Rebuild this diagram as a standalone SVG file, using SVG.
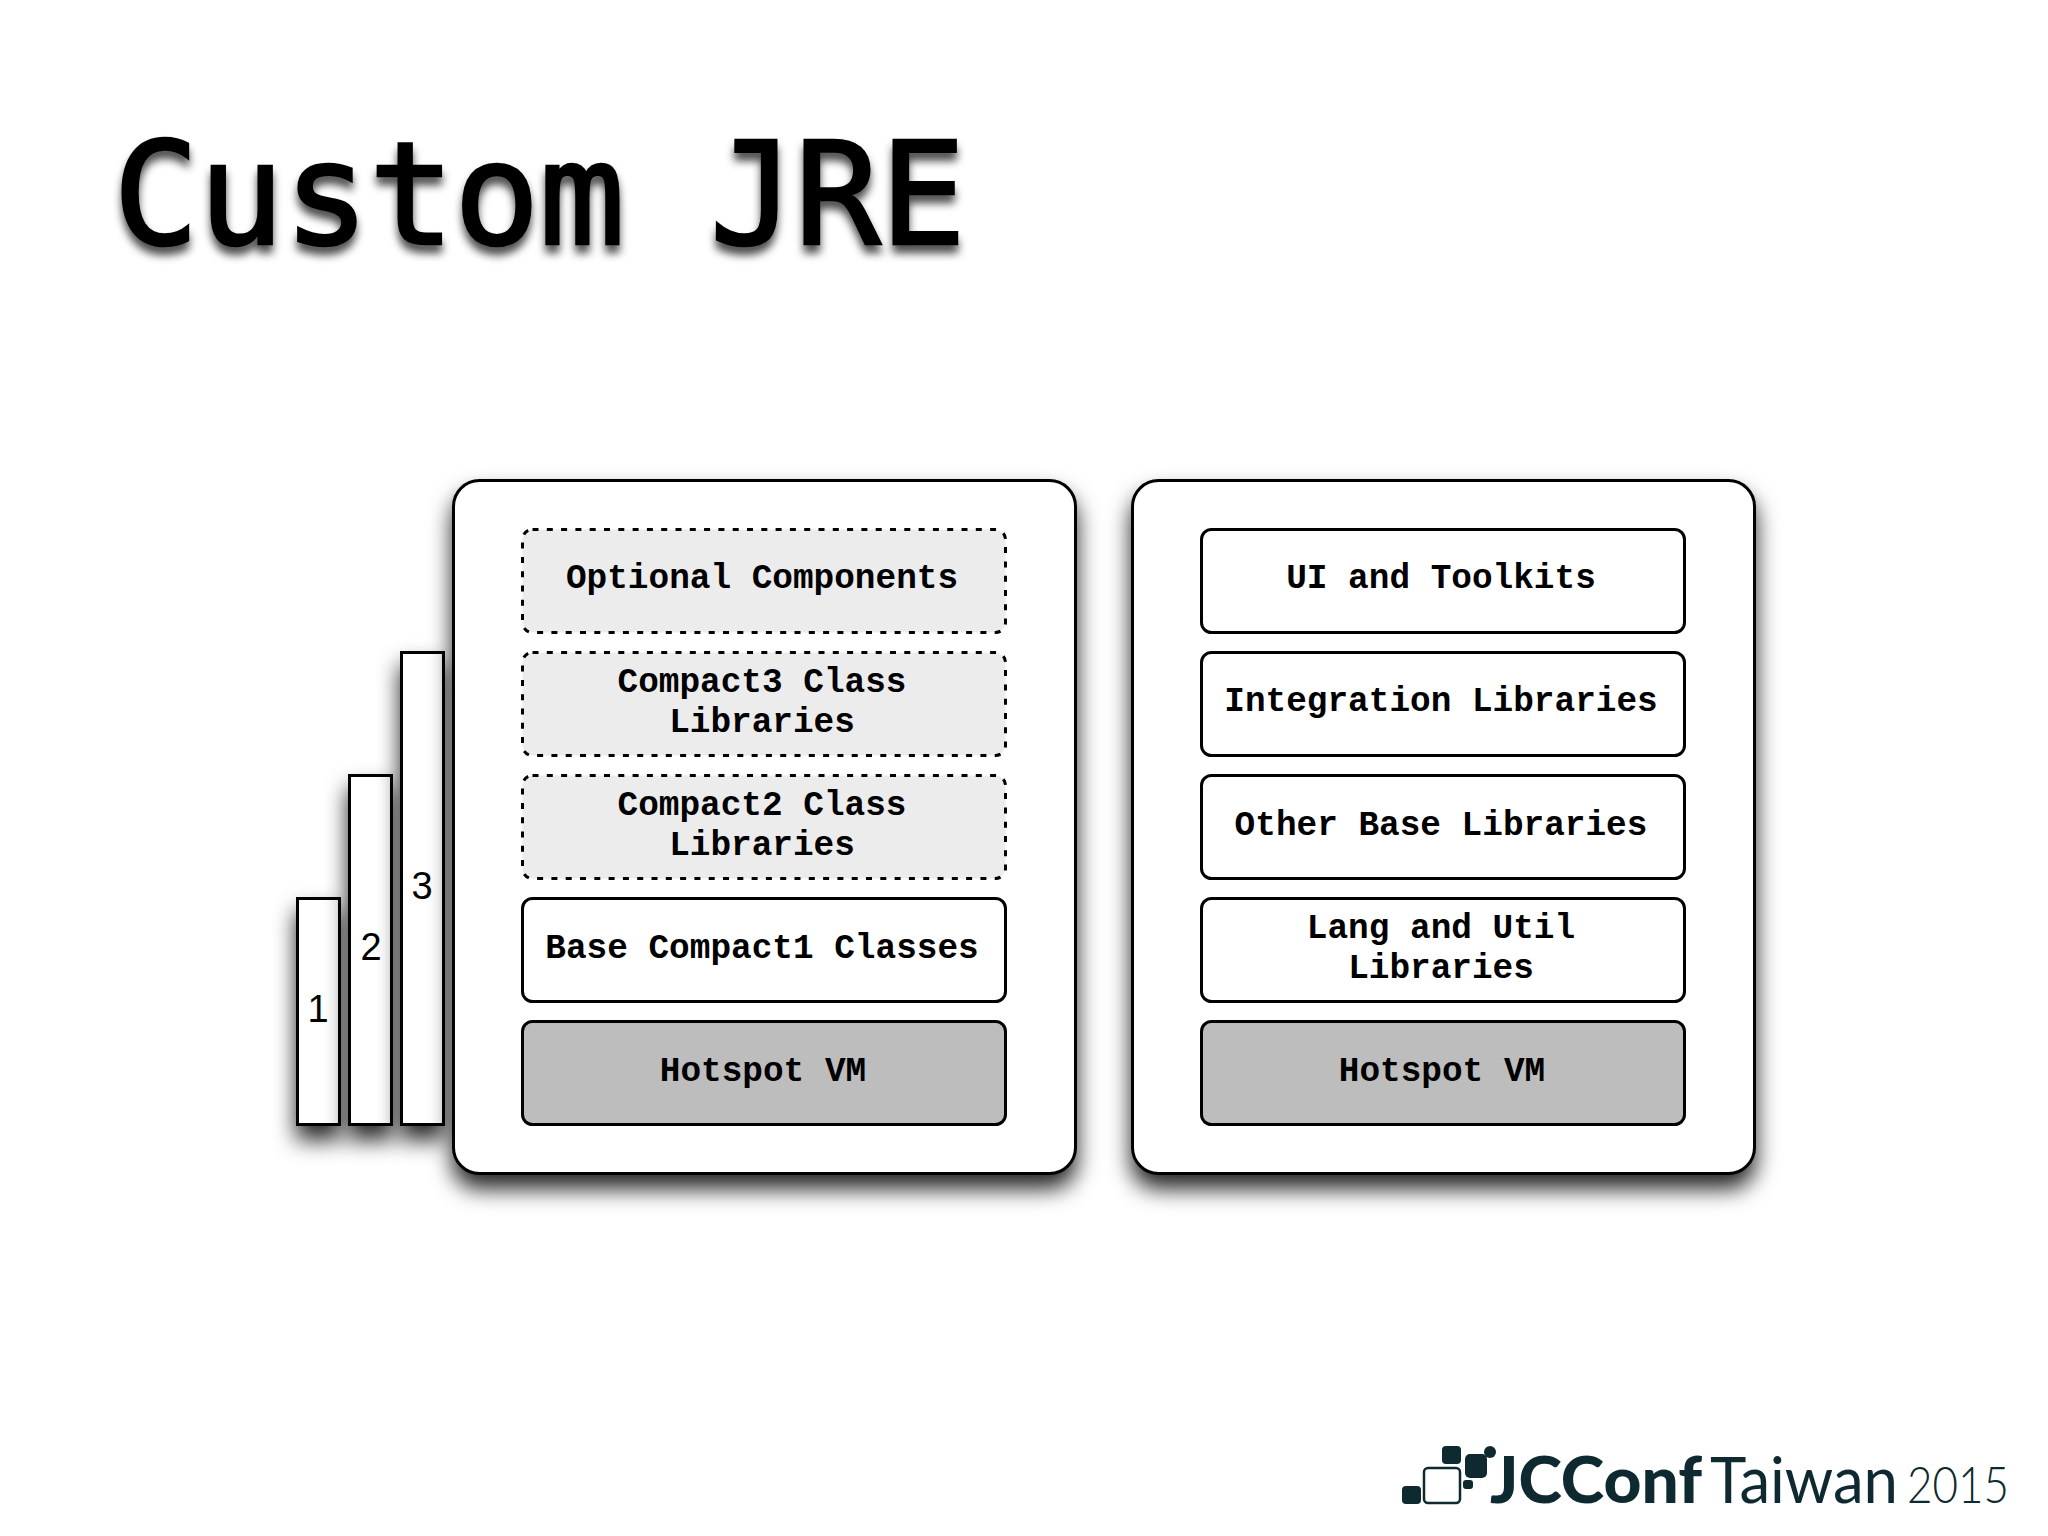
<svg xmlns="http://www.w3.org/2000/svg" width="2048" height="1536" viewBox="0 0 2048 1536">
<defs>
<style>
.shadow{filter:url(#ds)}
.panel{fill:#fff;stroke:#000;stroke-width:3}
.bar{fill:#fff;stroke:#000;stroke-width:3}
.box{fill:#fff;stroke:#000;stroke-width:3}
.opt{fill:#ececec;stroke:#000;stroke-width:3;stroke-dasharray:6 8.3}
.vm{fill:#bdbdbd;stroke:#000;stroke-width:3}
.lbl{font-family:"Liberation Mono",monospace;font-weight:700;font-size:34.4px;text-anchor:middle;fill:#000}
.num{font-family:"Liberation Sans",Arial,sans-serif;font-size:38px;text-anchor:middle;fill:#000}
.logo{fill:#0e2a30}
</style>
<filter id="ds" x="-60%" y="-30%" width="220%" height="160%"><feDropShadow dx="0" dy="14" stdDeviation="11" flood-color="#000" flood-opacity="0.85"/></filter>
<filter id="ts" x="-5%" y="-20%" width="110%" height="150%"><feDropShadow dx="0" dy="8" stdDeviation="4" flood-color="#000" flood-opacity="0.7"/></filter>
</defs>
<rect width="2048" height="1536" fill="#fff"/>
<text id="title" x="113" y="244" font-family="'DejaVu Sans Mono',monospace" font-weight="400" font-size="143" textLength="853" stroke="#000" stroke-width="2.500" filter="url(#ts)">Custom JRE</text>
<g id="bar-1"><rect class="bar shadow" x="297.500" y="898.500" width="42" height="226"/><text class="num" x="318" y="1022">1</text></g>
<g id="bar-2"><rect class="bar shadow" x="349.500" y="775.500" width="42" height="349"/><text class="num" x="371" y="960">2</text></g>
<g id="bar-3"><rect class="bar shadow" x="401.500" y="652.500" width="42" height="472"/><text class="num" x="422" y="899">3</text></g>
<g id="panel-left"><rect class="panel shadow" x="453.500" y="480.500" width="622" height="693" rx="26"/></g>
<g id="panel-right"><rect class="panel shadow" x="1132.500" y="480.500" width="622" height="693" rx="26"/></g>
<g id="l-optional"><rect class="opt" x="522.500" y="529.500" width="483" height="103" rx="10"/><text class="lbl" x="762" y="588">Optional Components</text></g>
<g id="l-compact3"><rect class="opt" x="522.500" y="652.500" width="483" height="103" rx="10"/><text class="lbl" x="762" y="692">Compact3 Class</text><text class="lbl" x="762" y="732">Libraries</text></g>
<g id="l-compact2"><rect class="opt" x="522.500" y="775.500" width="483" height="103" rx="10"/><text class="lbl" x="762" y="815">Compact2 Class</text><text class="lbl" x="762" y="855">Libraries</text></g>
<g id="l-base"><rect class="box" x="522.500" y="898.500" width="483" height="103" rx="10"/><text class="lbl" x="762" y="958">Base Compact1 Classes</text></g>
<g id="l-vm"><rect class="vm" x="522.500" y="1021.500" width="483" height="103" rx="10"/><text class="lbl" x="763" y="1081">Hotspot VM</text></g>
<g id="r-ui"><rect class="box" x="1201.500" y="529.500" width="483" height="103" rx="10"/><text class="lbl" x="1441" y="588">UI and Toolkits</text></g>
<g id="r-integration"><rect class="box" x="1201.500" y="652.500" width="483" height="103" rx="10"/><text class="lbl" x="1441" y="711">Integration Libraries</text></g>
<g id="r-other"><rect class="box" x="1201.500" y="775.500" width="483" height="103" rx="10"/><text class="lbl" x="1441" y="835">Other Base Libraries</text></g>
<g id="r-lang"><rect class="box" x="1201.500" y="898.500" width="483" height="103" rx="10"/><text class="lbl" x="1441" y="938">Lang and Util</text><text class="lbl" x="1441" y="978">Libraries</text></g>
<g id="r-vm"><rect class="vm" x="1201.500" y="1021.500" width="483" height="103" rx="10"/><text class="lbl" x="1442" y="1081">Hotspot VM</text></g>
<g id="logo">
<rect class="logo" x="1402" y="1486" width="19" height="18" rx="4"/>
<rect x="1424" y="1468" width="36" height="35" rx="4" fill="#fff" stroke="#0e2a30" stroke-width="2.500"/>
<rect class="logo" x="1442" y="1446" width="19" height="18" rx="4"/>
<rect class="logo" x="1465" y="1454" width="22" height="24" rx="5"/>
<rect class="logo" x="1463" y="1480" width="10" height="9" rx="3"/>
<circle class="logo" cx="1490" cy="1452" r="6"/>
<text class="logo" x="1490" y="1503" font-family="Lato,sans-serif" font-weight="900" font-size="64" textLength="212" lengthAdjust="spacingAndGlyphs">JCConf</text>
<text class="logo" x="1710" y="1503" font-family="Lato,sans-serif" font-weight="400" font-size="64" textLength="188" lengthAdjust="spacingAndGlyphs">Taiwan</text>
<text class="logo" x="1907" y="1503" font-family="Lato,sans-serif" font-weight="300" font-size="52" textLength="102" lengthAdjust="spacingAndGlyphs">2015</text>
</g>
</svg>
